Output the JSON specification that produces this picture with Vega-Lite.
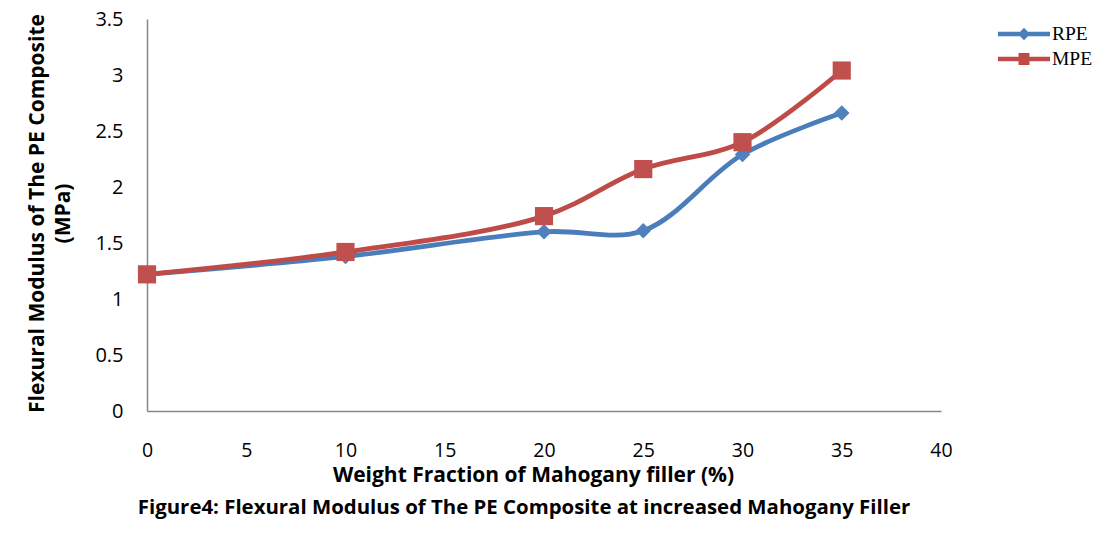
{
  "$schema": "https://vega.github.io/schema/vega-lite/v6.json",
  "autosize": {"type": "none"},
  "width": 794,
  "height": 392,
  "padding": {"left": 147, "top": 19, "right": 170, "bottom": 124},
  "background": "white",
  "config": {
    "view": {"stroke": null},
    "font": "Open Sans"
  },
  "title": {
    "text": "Figure4: Flexural Modulus of The PE Composite at increased Mahogany Filler",
    "orient": "bottom",
    "anchor": "middle",
    "frame": "group",
    "font": "Open Sans",
    "fontSize": 20.4,
    "fontWeight": "bold",
    "color": "#000000",
    "dx": -20,
    "offset": 13
  },
  "data": {
    "values": [
      {"x": 0, "y": 1.22, "s": "RPE"},
      {"x": 10, "y": 1.38, "s": "RPE"},
      {"x": 20, "y": 1.6, "s": "RPE"},
      {"x": 25, "y": 1.61, "s": "RPE"},
      {"x": 30, "y": 2.29, "s": "RPE"},
      {"x": 35, "y": 2.66, "s": "RPE"},
      {"x": 0, "y": 1.22, "s": "MPE"},
      {"x": 10, "y": 1.42, "s": "MPE"},
      {"x": 20, "y": 1.74, "s": "MPE"},
      {"x": 25, "y": 2.16, "s": "MPE"},
      {"x": 30, "y": 2.4, "s": "MPE"},
      {"x": 35, "y": 3.04, "s": "MPE"}
    ]
  },
  "encoding": {
    "x": {
      "field": "x", "type": "quantitative",
      "scale": {"domain": [0, 40], "nice": false, "zero": true},
      "axis": {
        "values": [0, 5, 10, 15, 20, 25, 30, 35, 40],
        "grid": false, "ticks": false, "tickSize": 0,
        "domainColor": "#868686", "domainWidth": 1.5,
        "labelFont": "Open Sans", "labelFontSize": 19.5, "labelColor": "#000000",
        "labelBaseline": "alphabetic", "labelPadding": 45, "labelFlush": false,
        "title": "Weight Fraction of Mahogany filler (%)",
        "titleFont": "Open Sans", "titleFontSize": 21, "titleFontWeight": "bold", "titleColor": "#000000",
        "titleBaseline": "alphabetic", "titleX": 386, "titleY": 70, "titleAnchor": null
      }
    },
    "y": {
      "field": "y", "type": "quantitative",
      "scale": {"domain": [0, 3.5], "nice": false},
      "axis": {
        "values": [0, 0.5, 1, 1.5, 2, 2.5, 3, 3.5],
        "format": "~g",
        "grid": false, "ticks": false, "tickSize": 0,
        "domainColor": "#868686", "domainWidth": 1.5,
        "labelFont": "Open Sans", "labelFontSize": 20, "labelColor": "#000000",
        "labelBaseline": "middle", "labelPadding": 24, "labelFlush": false,
        "title": ["Flexural Modulus of The PE Composite", "(MPa)"],
        "titleFont": "Open Sans", "titleFontSize": 21, "titleFontWeight": "bold", "titleColor": "#000000",
        "titleAngle": -90, "titleAlign": "center", "titleBaseline": "top",
        "titleLineHeight": 26,
        "titleX": -121, "titleY": 194
      }
    },
    "color": {
      "field": "s", "type": "nominal",
      "scale": {"domain": ["RPE", "MPE"], "range": ["#4A7EBB", "#BE4B48"]},
      "legend": {
        "orient": "none", "legendX": 867, "legendY": 5,
        "title": null, "padding": 0,
        "symbolSize": 400, "labelOffset": 18, "rowPadding": 5,
        "labelFont": "Liberation Serif", "labelFontSize": 19.5, "labelColor": "#000000",
        "encode": {
          "symbols": {
            "update": {
              "shape": {"signal": "datum.value === 'RPE' ? 'M-2.6,-0.22L2.6,-0.22L2.6,0.22L-2.6,0.22Z M0,-0.62L0.62,0L0,0.62L-0.62,0Z' : 'M-2.6,-0.22L2.6,-0.22L2.6,0.22L-2.6,0.22Z M-0.55,-0.6L0.55,-0.6L0.55,0.6L-0.55,0.6Z'"},
              "fill": {"signal": "datum.value === 'RPE' ? '#4A7EBB' : '#BE4B48'"},
              "stroke": {"value": "transparent"},
              "strokeWidth": {"value": 0},
              "opacity": {"value": 1}
            }
          }
        }
      }
    }
  },
  "layer": [
    {
      "mark": {"type": "line", "interpolate": "catmull-rom", "strokeWidth": 4.8}
    },
    {
      "transform": [{"filter": "datum.s === 'RPE'"}],
      "mark": {"type": "point", "filled": true, "opacity": 1, "shape": "diamond", "size": 240, "color": "#4F81BD"},
      "encoding": {"color": {"value": "#4F81BD"}}
    },
    {
      "transform": [{"filter": "datum.s === 'MPE'"}],
      "mark": {"type": "point", "filled": true, "opacity": 1, "shape": "square", "size": 330, "color": "#C0504D"},
      "encoding": {"color": {"value": "#C0504D"}}
    }
  ]
}
